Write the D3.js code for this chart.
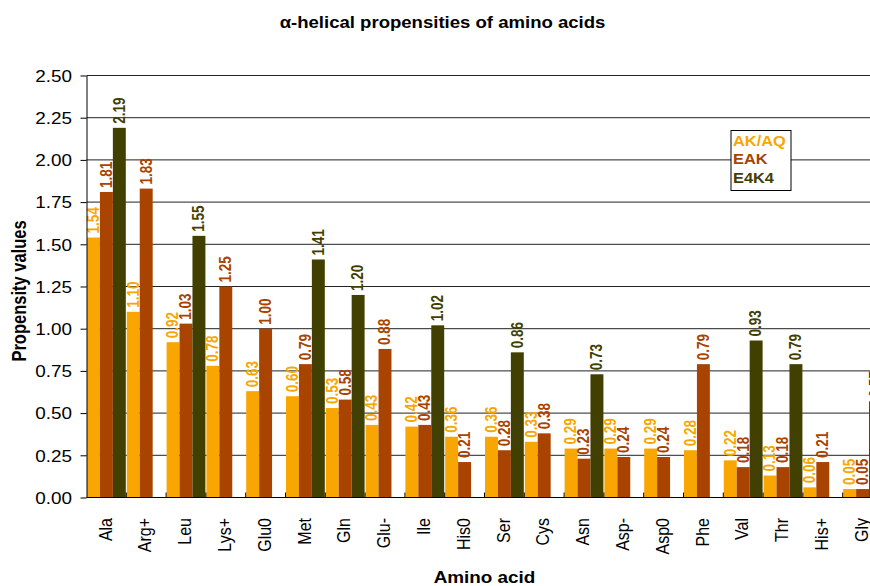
<!DOCTYPE html>
<html>
<head>
<meta charset="utf-8">
<script src="https://cdn.jsdelivr.net/npm/d3@7"></script>
<style>
  html, body { margin: 0; padding: 0; background: #fff; }
  svg { display: block; font-family: "Liberation Sans", Arial, sans-serif; }
</style>
</head>
<body>
<svg id="chart" width="870" height="586"></svg>
<script>
// Amino acids along the x axis
const categories = ["Ala", "Arg+", "Leu", "Lys+", "Glu0", "Met", "Gln", "Glu-", "Ile", "His0",
                    "Ser", "Cys", "Asn", "Asp-", "Asp0", "Phe", "Val", "Thr", "His+", "Gly"];
const seriesNames = ["AK/AQ", "EAK", "E4K4"];
const seriesColors = ["#F9A602", "#A84300", "#424000"];

// Helix propensity values per host system (null = not measured)
const akaqValues = [1.54, 1.10, 0.92, 0.78, 0.63, 0.60, 0.53, 0.43, 0.42, 0.36,
                    0.36, 0.33, 0.29, 0.29, 0.29, 0.28, 0.22, 0.13, 0.06, 0.05];
const eakValues  = [1.81, 1.83, 1.03, 1.25, 1.00, 0.79, 0.58, 0.88, 0.43, 0.21,
                    0.28, 0.38, 0.23, 0.24, 0.24, 0.79, 0.18, 0.18, 0.21, 0.05];
const e4k4Values = [2.19, null, 1.55, null, null, 1.41, 1.20, null, 1.02, null,
                    0.86, null, 0.73, null, null, null, 0.93, 0.79, null, 0.57];

const yTickValues = [0, 0.25, 0.5, 0.75, 1.0, 1.25, 1.5, 1.75, 2.0, 2.25, 2.5];

const seriesValues = [akaqValues, eakValues, e4k4Values];

const svg = d3.select("#chart");
const font = "'Liberation Sans', Arial, sans-serif";
const SX = 1.18; // horizontal glyph stretch used throughout

const plotLeft = 86.5, plotTop = 75.5, plotBottom = 497.5, groupW = 39.8;
const plotRight = plotLeft + groupW * categories.length;

const x0 = d3.scaleBand().domain(categories).range([plotLeft, plotRight]).padding(0);
const x1 = d3.scaleBand().domain(d3.range(seriesNames.length)).range([0.5, groupW - 0.5]).padding(0);
const y = d3.scaleLinear().domain([0, 2.5]).range([plotBottom, plotTop]);
const fmt = d3.format(".2f");

// Title
svg.append("text")
  .attr("transform", `translate(442.5,27.5) scale(1.16,1)`)
  .attr("text-anchor", "middle")
  .attr("font-weight", "bold")
  .attr("font-size", 16)
  .attr("fill", "#000")
  .text("\u03B1-helical propensities of amino acids");

// Horizontal gridlines
svg.append("g")
  .selectAll("line")
  .data(yTickValues.filter(v => v > 0))
  .join("line")
  .attr("x1", plotLeft).attr("x2", plotRight)
  .attr("y1", d => y(d)).attr("y2", d => y(d))
  .attr("stroke", "#222").attr("stroke-width", 1);

// Bars
const rows = categories.map((c, i) => ({ cat: c, vals: seriesValues.map(s => s[i]) }));
const groups = svg.append("g")
  .selectAll("g")
  .data(rows)
  .join("g")
  .attr("transform", d => `translate(${x0(d.cat)},0)`);

groups.selectAll("rect")
  .data(d => d.vals.map((v, k) => ({ v, k })).filter(e => e.v !== null))
  .join("rect")
  .attr("x", e => x1(e.k))
  .attr("width", x1.bandwidth())
  .attr("y", e => y(e.v))
  .attr("height", e => y(0) - y(e.v))
  .attr("fill", e => seriesColors[e.k]);

// Y axis
const yAxis = d3.axisLeft(y).tickValues(yTickValues).tickSize(6).tickSizeOuter(0).tickFormat(fmt);
const yg = svg.append("g").attr("transform", `translate(${plotLeft},0)`).call(yAxis);
yg.select(".domain").attr("stroke", "#000");
yg.selectAll(".tick line").attr("stroke", "#000");
yg.selectAll(".tick text")
  .attr("font-family", font)
  .attr("font-size", 16)
  .attr("fill", "#000")
  .attr("x", 0)
  .attr("dy", "0.36em")
  .attr("transform", `translate(-14.5,0) scale(${SX},1)`);

// X axis with inside ticks at group boundaries
const xg = svg.append("g").attr("transform", `translate(0,${plotBottom})`);
xg.append("line").attr("x1", plotLeft).attr("x2", plotRight).attr("y1", 0).attr("y2", 0).attr("stroke", "#000");
xg.selectAll("line.bound")
  .data(categories.slice(1))
  .join("line")
  .attr("class", "bound")
  .attr("x1", d => x0(d)).attr("x2", d => x0(d))
  .attr("y1", 0).attr("y2", -5)
  .attr("stroke", "#000");
xg.selectAll("text")
  .data(categories)
  .join("text")
  .attr("transform", d => `translate(${x0(d) + x0.bandwidth() / 2 - 1.5},${20.5}) rotate(-90) scale(1,${SX})`)
  .attr("text-anchor", "end")
  .attr("dy", "0.35em")
  .attr("font-family", font)
  .attr("font-size", 16)
  .attr("fill", "#000")
  .text(d => d);

// Data value labels, rotated above each bar
groups.selectAll("text")
  .data(d => d.vals.map((v, k) => ({ v, k })).filter(e => e.v !== null))
  .join("text")
  .attr("transform", e => `translate(${x1(e.k) + x1.bandwidth() / 2 - 0.5},${y(e.v) - 4}) rotate(-90) scale(1,1.2)`)
  .attr("text-anchor", "start")
  .attr("dy", "0.36em")
  .attr("font-family", font)
  .attr("font-weight", "bold")
  .attr("font-size", 13.5)
  .attr("fill", e => seriesColors[e.k])
  .text(e => fmt(e.v));

// Axis titles
svg.append("text")
  .attr("transform", `translate(${(plotLeft + plotRight) / 2},583) scale(${SX},1)`)
  .attr("text-anchor", "middle")
  .attr("font-weight", "bold")
  .attr("font-size", 16)
  .attr("fill", "#000")
  .text("Amino acid");

svg.append("text")
  .attr("transform", `translate(26,291) rotate(-90) scale(1,${SX})`)
  .attr("text-anchor", "middle")
  .attr("font-weight", "bold")
  .attr("font-size", 16.5)
  .attr("fill", "#000")
  .text("Propensity values");

// Legend
const legend = svg.append("g").attr("transform", "translate(731,130.5)");
legend.append("rect")
  .attr("width", 60).attr("height", 60)
  .attr("fill", "#fff").attr("stroke", "#000").attr("stroke-width", 1);
legend.selectAll("text")
  .data(seriesNames)
  .join("text")
  .attr("transform", (d, i) => `translate(2,${15.5 + i * 18.3}) scale(1.13,1)`)
  .attr("font-family", font)
  .attr("font-weight", "bold")
  .attr("font-size", 14.5)
  .attr("fill", (d, i) => seriesColors[i])
  .text(d => d);
</script>
</body>
</html>
